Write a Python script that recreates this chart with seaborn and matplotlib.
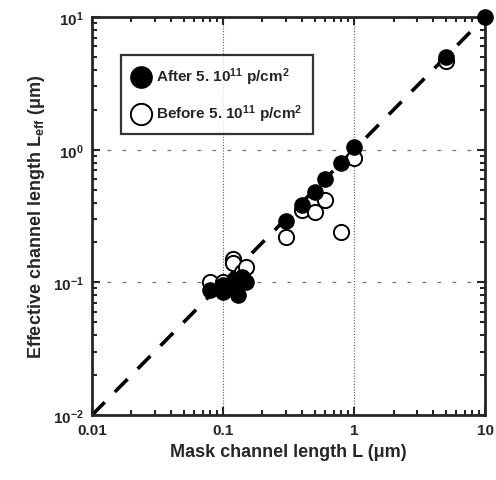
import matplotlib
matplotlib.use("Agg")
import matplotlib.pyplot as plt
import seaborn as sns
import pandas as pd
from matplotlib.ticker import LogLocator, FixedLocator, NullFormatter

sns.set_style("ticks")
plt.rcParams['font.family'] = ['Liberation Sans', 'DejaVu Sans']
plt.rcParams['mathtext.fontset'] = 'custom'
plt.rcParams['mathtext.rm'] = 'Liberation Sans:bold'
plt.rcParams['mathtext.it'] = 'Liberation Sans:bold'
plt.rcParams['mathtext.bf'] = 'Liberation Sans:bold'

# Data
after_x = [0.08, 0.1, 0.1, 0.12, 0.12, 0.13, 0.14, 0.15, 0.3, 0.4, 0.5, 0.6, 0.8, 1.0, 5.0, 10.0]
after_y = [0.088, 0.085, 0.095, 0.1, 0.095, 0.08, 0.11, 0.1, 0.29, 0.38, 0.48, 0.6, 0.8, 1.05, 5.0, 10.0]
before_x = [0.08, 0.1, 0.12, 0.12, 0.14, 0.15, 0.3, 0.4, 0.5, 0.6, 0.8, 1.0, 5.0]
before_y = [0.1, 0.1, 0.15, 0.14, 0.12, 0.13, 0.22, 0.35, 0.34, 0.42, 0.24, 0.87, 4.7]
diag = [0.01, 10.0]
xticks = [0.01, 0.1, 1, 10]
xticklabels = ["0.01", "0.1", "1", "10"]
yticks = [0.01, 0.1, 1, 10]
yticklabels = ["10$^{-2}$", "10$^{-1}$", "10$^{0}$", "10$^{1}$"]
label_after = "After 5. 10$^{11}$ p/cm$^{2}$"
label_before = "Before 5. 10$^{11}$ p/cm$^{2}$"

fig = plt.figure(figsize=(4.96, 4.81), dpi=100)
ax = fig.add_axes([0.1855, 0.135, 0.7925, 0.8275])

ax.set_xscale('log')
ax.set_yscale('log')
ax.set_xlim(0.01, 10)
ax.set_ylim(0.01, 10)

# grid
for v in [0.1, 1]:
    ax.axvline(v, color='0.35', lw=0.8, ls=(0, (1, 1.5)), zorder=0)
    ax.axhline(v, color='0.45', lw=0.9, ls=(0, (3, 9)), zorder=0)

sns.lineplot(x=diag, y=diag, ax=ax, color='black', lw=2.6,
             linestyle=(0, (5, 4)), zorder=1)

sns.scatterplot(x=before_x, y=before_y, ax=ax, s=120, facecolor='white',
                edgecolor='black', linewidth=1.4, zorder=2, label=label_before,
                clip_on=False)
sns.scatterplot(x=after_x, y=after_y, ax=ax, s=120, color='black',
                edgecolor='black', linewidth=1.0, zorder=3, label=label_after,
                clip_on=False)

ax.set_xticks(xticks)
ax.set_xticklabels(xticklabels)
ax.set_yticks(yticks)
ax.set_yticklabels(yticklabels)
ax.xaxis.set_minor_locator(LogLocator(base=10, subs=range(2, 10)))
ax.yaxis.set_minor_locator(LogLocator(base=10, subs=range(2, 10)))
ax.xaxis.set_minor_formatter(NullFormatter())
ax.yaxis.set_minor_formatter(NullFormatter())

ax.tick_params(which='both', direction='in', top=True, right=True, width=1.5)
ax.tick_params(which='major', length=6, labelsize=11, pad=6)
ax.tick_params(which='minor', length=3.5)
for lab in ax.get_xticklabels() + ax.get_yticklabels():
    lab.set_fontweight('bold')
for sp in ax.spines.values():
    sp.set_linewidth(2.0)
    sp.set_visible(True)

ax.set_xlabel("Mask channel length L (\u03bcm)", fontsize=13, fontweight='bold', labelpad=4)
ax.set_ylabel("Effective channel length L$_{eff}$ (\u03bcm)", fontsize=13, fontweight='bold', labelpad=4)

handles, labels = ax.get_legend_handles_labels()
order = [1, 0]
leg = ax.legend([handles[i] for i in order], [labels[i] for i in order],
                loc='upper left', bbox_to_anchor=(0.055, 0.925), frameon=True,
                fancybox=False, edgecolor='black', prop={'weight': 'bold', 'size': 11},
                markerscale=1.4, handletextpad=0.4, borderpad=0.7, labelspacing=1.0,
                handlelength=1.2)
leg.get_frame().set_linewidth(1.6)

fig.savefig("out.png", dpi=100)
